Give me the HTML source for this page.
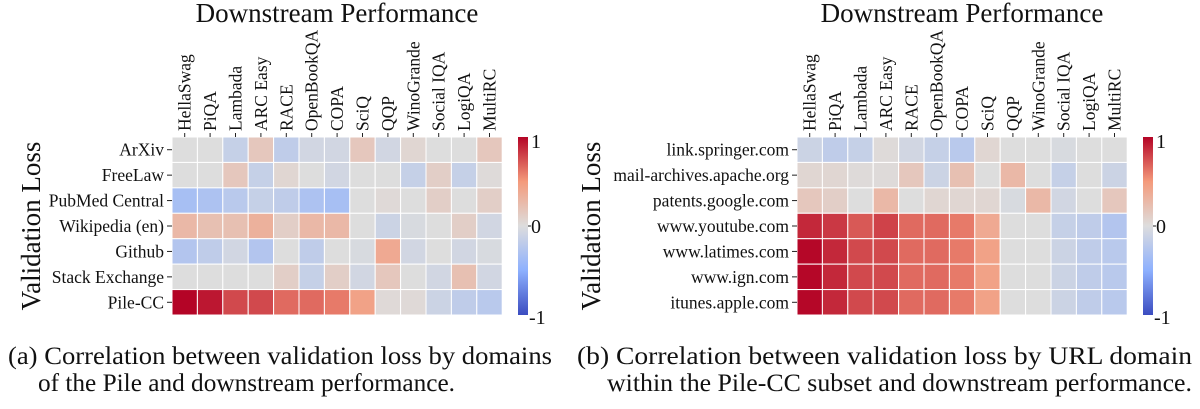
<!DOCTYPE html><html><head><style>body{margin:0;background:#fff}svg{display:block}text{font-family:"Liberation Serif","DejaVu Serif",serif;fill:#111}</style></head><body>
<svg id="s" width="1200" height="409" xmlns="http://www.w3.org/2000/svg" font-family="Liberation Serif, serif">
<defs><linearGradient id="cb" x1="0" y1="1" x2="0" y2="0">
<stop offset="0" stop-color="#3b4cc0"/><stop offset="0.25" stop-color="#8db0fe"/><stop offset="0.5" stop-color="#dddddd"/><stop offset="0.75" stop-color="#f49a7b"/><stop offset="1" stop-color="#b40426"/></linearGradient></defs>
<text x="337" y="22" font-size="27" text-anchor="middle">Downstream Performance</text>
<text x="962" y="22" font-size="27" text-anchor="middle">Downstream Performance</text>
<text transform="translate(40,226) rotate(-90)" font-size="27" text-anchor="middle">Validation Loss</text>
<text transform="translate(600,226) rotate(-90)" font-size="27" text-anchor="middle">Validation Loss</text>
<g id="g"></g>
<rect x="518" y="137" width="10" height="178" fill="url(#cb)"/>
<rect x="1143" y="137" width="10" height="178" fill="url(#cb)"/>
<text x="531" y="148" font-size="20">1</text><text x="531" y="233" font-size="20">0</text><text x="529" y="324" font-size="20">-1</text>
<text x="1156" y="148" font-size="20">1</text><text x="1156" y="233" font-size="20">0</text><text x="1154" y="324" font-size="20">-1</text>
<line x1="528" y1="226" x2="531" y2="226" stroke="#222"/><line x1="1153" y1="226" x2="1156" y2="226" stroke="#222"/>
<text x="8" y="364" font-size="25" textLength="544" lengthAdjust="spacingAndGlyphs">(a)  Correlation between validation loss by domains</text>
<text x="38" y="391" font-size="25" textLength="417" lengthAdjust="spacingAndGlyphs">of the Pile and downstream performance.</text>
<text x="577" y="364" font-size="25" textLength="615" lengthAdjust="spacingAndGlyphs">(b)  Correlation between validation loss by URL domain</text>
<text x="607" y="391" font-size="25" textLength="585" lengthAdjust="spacingAndGlyphs">within the Pile-CC subset and downstream performance.</text>
</svg>
<script>
var A=[[-1,[59,76,192]],[-.5,[141,176,254]],[0,[221,221,221]],[.5,[244,154,123]],[1,[180,4,38]]];
function col(v){if(v<0)v*=0.75;else v=Math.min(1,v*1.1);for(var i=0;i<4;i++){if(v<=A[i+1][0]){var t=(v-A[i][0])/(A[i+1][0]-A[i][0]);var c=A[i][1].map(function(a,k){return Math.round(a+(A[i+1][1][k]-a)*t)});return 'rgb('+c+')';}}}
var cols=["HellaSwag","PiQA","Lambada","ARC Easy","RACE","OpenBookQA","COPA","SciQ","QQP","WinoGrande","Social IQA","LogiQA","MultiRC"];
var L={rows:["ArXiv","FreeLaw","PubMed Central","Wikipedia (en)","Github","Stack Exchange","Pile-CC"],x:172,v:[
[0,0,-.2,.15,-.25,-.1,-.1,.15,-.1,.05,0,0,.15],
[0,0,.15,-.2,.05,0,-.1,0,0,-.2,.1,-.2,.02],
[-.45,-.4,-.3,-.2,-.25,-.4,-.45,0,.03,0,.1,0,.1],
[.25,.2,.2,.3,.1,.25,.25,0,-.15,-.05,0,.1,-.1],
[-.35,-.25,-.1,-.35,0,-.25,0,-.05,.35,-.1,0,-.1,-.05],
[0,0,0,0,.1,-.2,.1,-.1,.15,0,-.1,.2,-.1],
[.95,.85,.7,.7,.6,.6,.55,.4,.03,.03,-.15,-.25,-.3]]};
var R={rows:["link.springer.com","mail-archives.apache.org","patents.google.com","www.youtube.com","www.latimes.com","www.ign.com","itunes.apple.com"],x:797,v:[
[-.15,-.25,-.2,.02,-.1,-.2,-.3,.05,0,0,-.05,0,0],
[.05,.05,.02,.02,.15,-.15,.2,0,.25,0,-.2,0,-.15],
[.15,.1,0,.25,0,.05,.05,.05,-.05,.25,-.1,0,.15],
[.8,.75,.65,.72,.6,.6,.55,.35,0,0,-.2,-.25,-.35],
[.9,.8,.7,.7,.6,.6,.55,.4,0,0,-.15,-.25,-.3],
[.9,.8,.7,.7,.6,.6,.55,.4,0,0,-.15,-.25,-.3],
[.9,.8,.7,.7,.6,.6,.55,.4,0,0,-.15,-.25,-.3]]};
var h='',w=25.4,y0=137,hh=25.43;
[L,R].forEach(function(M){
 for(var r=0;r<7;r++){for(var c=0;c<13;c++){h+='<rect x="'+(M.x+c*w)+'" y="'+(y0+r*hh)+'" width="'+w+'" height="'+hh+'" fill="'+col(M.v[r][c])+'" stroke="#fff" stroke-width="1"/>';}
 var yy=y0+r*hh+hh/2;h+='<text x="'+(M.x-8)+'" y="'+(yy+6)+'" font-size="17.5" text-anchor="end" font-family="Liberation Serif, serif">'+M.rows[r]+'</text><line x1="'+(M.x-5)+'" y1="'+yy+'" x2="'+M.x+'" y2="'+yy+'" stroke="#222"/>';}
 for(var c=0;c<13;c++){var xx=M.x+c*w+w/2;h+='<text transform="translate('+(xx+6)+',131) rotate(-90)" font-size="17.5" font-family="Liberation Serif, serif">'+cols[c]+'</text><line x1="'+xx+'" y1="133" x2="'+xx+'" y2="137" stroke="#222"/>';}
});
document.getElementById('g').innerHTML=h;
</script></body></html>
